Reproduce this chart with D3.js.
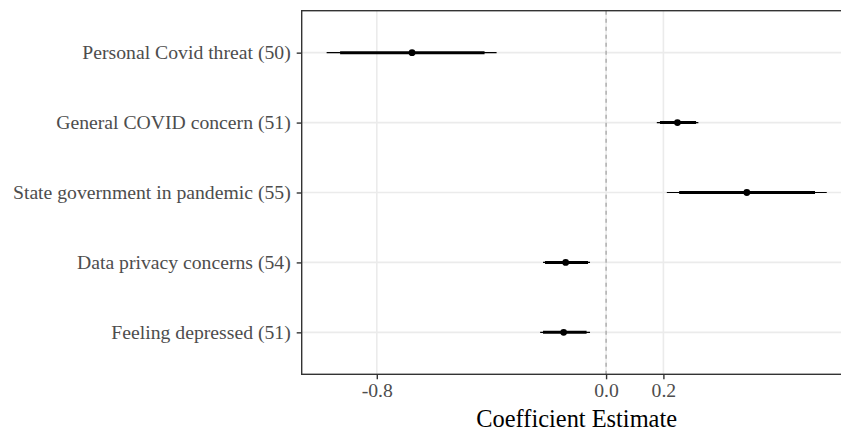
<!DOCTYPE html>
<html>
<head>
<meta charset="utf-8">
<script src="https://cdn.jsdelivr.net/npm/d3@7"></script>
<style>
  body { margin: 0; background: #fff; }
  svg { display: block; }
</style>
</head>
<body>
<div class="canvas"></div>
<script>
const width = 841
const height = 434
const fontFam = '"Liberation Serif", "Times New Roman", serif'

// data, top to bottom
const labels = ['Personal Covid threat (50)', 'General COVID concern (51)',
  'State government in pandemic (55)', 'Data privacy concerns (54)', 'Feeling depressed (51)']
const estimates = [-0.677, 0.249, 0.491, -0.141, -0.148]
const innerLo = [-0.928, 0.188, 0.255, -0.213, -0.220]
const innerHi = [-0.424, 0.314, 0.729, -0.063, -0.068]
const outerLo = [-0.975, 0.177, 0.212, -0.220, -0.230]
const outerHi = [-0.382, 0.322, 0.770, -0.056, -0.056]
const xTicks = [-0.8, 0.0, 0.2]

const rows = labels.map((l, i) => ({
  label: l, est: estimates[i],
  ilo: innerLo[i], ihi: innerHi[i], olo: outerLo[i], ohi: outerHi[i]
}))

// panel box (right side runs off the image)
const pLeft = 301.7, pTop = 10.7, pBottom = 374.3, pRight = 851.7

const x = d3.scaleLinear()
  .domain([-1.062, 0.857])
  .range([pLeft, pRight])

const y = d3.scalePoint()
  .domain(labels)
  .range([pTop, pBottom])
  .padding(0.6)

const svg = d3.select('.canvas')
  .append('svg')
  .attr('width', width)
  .attr('height', height)
  .attr('viewBox', `0 0 ${width} ${height}`)

const graph = svg.append('g')

// grid
graph.selectAll('.vgrid')
  .data(xTicks)
  .enter().append('line')
  .attr('class', 'vgrid')
  .attr('x1', d => x(d)).attr('x2', d => x(d))
  .attr('y1', pTop).attr('y2', pBottom)
  .attr('stroke', '#ebebeb')
  .attr('stroke-width', 1.6)

graph.selectAll('.hgrid')
  .data(labels)
  .enter().append('line')
  .attr('class', 'hgrid')
  .attr('x1', pLeft).attr('x2', pRight)
  .attr('y1', d => y(d)).attr('y2', d => y(d))
  .attr('stroke', '#ebebeb')
  .attr('stroke-width', 1.6)

// zero reference line
graph.append('line')
  .attr('x1', x(0)).attr('x2', x(0))
  .attr('y1', pTop).attr('y2', pBottom)
  .attr('stroke', '#9a9a9a')
  .attr('stroke-width', 1.1)
  .attr('stroke-dasharray', '4,4')

// outer interval
graph.selectAll('.outer')
  .data(rows)
  .enter().append('line')
  .attr('class', 'outer')
  .attr('x1', d => x(d.olo)).attr('x2', d => x(d.ohi))
  .attr('y1', d => y(d.label)).attr('y2', d => y(d.label))
  .attr('stroke', '#000')
  .attr('stroke-width', 1.1)

// inner interval
graph.selectAll('.inner')
  .data(rows)
  .enter().append('line')
  .attr('class', 'inner')
  .attr('x1', d => x(d.ilo)).attr('x2', d => x(d.ihi))
  .attr('y1', d => y(d.label)).attr('y2', d => y(d.label))
  .attr('stroke', '#000')
  .attr('stroke-width', 3)

graph.selectAll('.pt')
  .data(rows)
  .enter().append('circle')
  .attr('class', 'pt')
  .attr('cx', d => x(d.est))
  .attr('cy', d => y(d.label))
  .attr('r', 3.4)
  .attr('fill', '#000')

// panel border
graph.append('rect')
  .attr('x', pLeft).attr('y', pTop)
  .attr('width', pRight - pLeft).attr('height', pBottom - pTop)
  .attr('fill', 'none')
  .attr('stroke', '#333333')
  .attr('stroke-width', 1.4)

// axes - plain hyphen for negatives like the R output
const xAxis = svg.append('g')
  .attr('transform', `translate(0, ${pBottom})`)
  .call(d3.axisBottom(x).tickValues(xTicks).tickFormat(d => d.toFixed(1)).tickSizeOuter(0).tickSize(5).tickPadding(4))
xAxis.select('.domain').remove()

const yAxis = svg.append('g')
  .attr('transform', `translate(${pLeft}, 0)`)
  .call(d3.axisLeft(y).tickSizeOuter(0).tickSize(5).tickPadding(6))
yAxis.select('.domain').remove()

svg.selectAll('.tick line')
  .attr('stroke', '#333333')
  .attr('stroke-width', 1.4)
svg.selectAll('.tick text')
  .attr('fill', '#4d4d4d')
  .attr('font-family', fontFam)
  .attr('font-size', 19.7)

svg.append('text')
  .attr('x', (pLeft + pRight) / 2)
  .attr('y', 427)
  .attr('text-anchor', 'middle')
  .attr('font-family', fontFam)
  .attr('font-size', 24.4)
  .attr('fill', '#000')
  .text('Coefficient Estimate')
</script>
</body>
</html>
